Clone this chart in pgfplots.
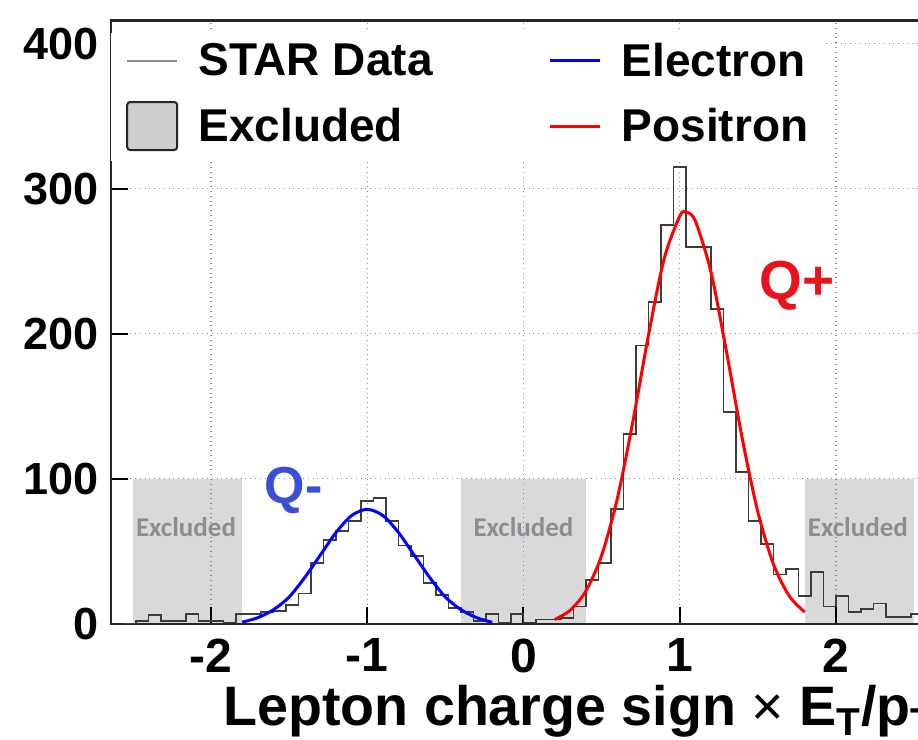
\documentclass[border=0pt]{standalone}
\usepackage{fontspec}
\setmainfont{Liberation Sans}
\newfontfamily\exclfont{Carlito}
\usepackage{pgfplots}
\pgfplotsset{compat=1.18}
\definecolor{exclgray}{HTML}{D9D9D9}
\definecolor{histgray}{HTML}{3C3C3C}
\definecolor{qblue}{HTML}{3A4FD6}
\definecolor{qred}{HTML}{E8141C}
\definecolor{textgray}{HTML}{8A8D94}
\begin{document}
\begin{tikzpicture}
\begin{axis}[
  set layers,
  scale only axis,
  width=412.5pt, height=301.6pt,
  xmin=-2.64, xmax=2.64, ymin=0, ymax=416,
  xtick={-2,-1,0,1,2}, xticklabels={-2,-1,0,1,2},
  ytick={0,100,200,300,400}, yticklabels={0,100,200,300,400},
  xtick pos=left, ytick pos=left,
  tick align=inside,
  major tick length=8.5pt,
  tick style={line width=1pt, black},
  grid=major,
  major grid style={dotted, line width=0.6pt, black!45},
  axis line style={line width=1.2pt, black!85},
  xticklabel style={font=\fontsize{24}{28}\selectfont\bfseries, inner sep=0pt, yshift=-7.3pt},
  yticklabel style={font=\fontsize{22.5}{27}\selectfont\bfseries, inner sep=0pt, xshift=-5.8pt},
  xlabel={Lepton charge sign {\mdseries ×} E\textsubscript{T}/p\textsubscript{T}},
  xlabel style={at={(rel axis cs:1,0)}, anchor=base east, yshift=-51pt, inner sep=0pt, font=\fontsize{27.8}{31}\selectfont\bfseries},
  legend columns=2,
  legend cell align=left,
  legend style={at={(rel axis cs:0,1)}, anchor=north west, yshift=-6pt, draw=none, fill=white, outer sep=0pt, inner xsep=7.5pt, inner ysep=5pt, font=\fontsize{23}{27}\selectfont\bfseries, nodes={inner sep=0pt}, row sep=11pt, /tikz/every odd column/.append style={column sep=10pt}, /tikz/every even column/.append style={column sep=58pt}},
]
\addlegendimage{legend image code/.code={\draw[black!45, line width=1.2pt] (0pt,0pt) -- (25pt,0pt);}}
\addlegendentry{STAR Data}
\addlegendimage{legend image code/.code={\draw[blue, line width=1.5pt] (0pt,0pt) -- (25pt,0pt);}}
\addlegendentry{Electron}
\addlegendimage{legend image code/.code={\draw[fill=exclgray!95!black, draw=black!85, line width=1pt, rounded corners=1.5pt] (0pt,-12pt) rectangle (25pt,12pt);}}
\addlegendentry{Excluded}
\addlegendimage{legend image code/.code={\draw[red, line width=1.5pt] (0pt,0pt) -- (25pt,0pt);}}
\addlegendentry{Positron}

% excluded regions
\addplot[fill=exclgray, draw=none, forget plot, on layer=axis background] coordinates {(-2.5,100) (-1.8,100)} \closedcycle;
\addplot[fill=exclgray, draw=none, forget plot, on layer=axis background] coordinates {(-0.4,100) (0.4,100)} \closedcycle;
\addplot[fill=exclgray, draw=none, forget plot, on layer=axis background] coordinates {(1.8,100) (2.5,100)} \closedcycle;

% STAR data histogram (left bin edges, width 0.08)
\addplot[const plot, histgray, line width=0.9pt, forget plot] coordinates {
(-2.56,0) (-2.48,2) (-2.40,6) (-2.32,2) (-2.24,2) (-2.16,7) (-2.08,2) (-2.00,2)
(-1.92,1) (-1.84,7) (-1.76,7) (-1.68,8) (-1.60,9) (-1.52,13) (-1.44,21) (-1.36,42)
(-1.28,58) (-1.20,64) (-1.12,71) (-1.04,85) (-0.96,87) (-0.88,71) (-0.80,54) (-0.72,47)
(-0.64,28) (-0.56,20) (-0.48,11) (-0.40,8) (-0.32,2) (-0.24,7) (-0.16,1) (-0.08,7)
(0.00,1) (0.08,3) (0.16,3) (0.24,4) (0.32,12) (0.40,30) (0.48,42) (0.56,79)
(0.64,131) (0.72,192) (0.80,222) (0.88,275) (0.96,315) (1.04,260) (1.12,260) (1.20,217)
(1.28,146) (1.36,105) (1.44,71) (1.52,55) (1.60,34) (1.68,38) (1.76,19) (1.84,36)
(1.92,12) (2.00,19) (2.08,8) (2.16,10) (2.24,14) (2.32,5) (2.40,5) (2.48,7) (2.56,7)
};

% electron fit
\addplot[blue, line width=1.5pt, smooth, forget plot] coordinates {
(-1.8,1.2) (-1.7,4.3) (-1.6,9.8) (-1.5,18.5) (-1.4,32) (-1.3,47.5) (-1.2,63) (-1.1,74.7)
(-1.0,79) (-0.9,74.7) (-0.8,63) (-0.7,47.5) (-0.6,32) (-0.5,18.5) (-0.4,9.8) (-0.3,4.3) (-0.2,1.0)
};

% positron fit
\addplot[red, line width=1.5pt, smooth, forget plot] coordinates {
(0.2,3.0) (0.3,9.5) (0.4,22.8) (0.5,47.2) (0.6,86.2) (0.7,139.4) (0.8,199.2) (0.9,251.7)
(1.0,281.2) (1.04,284) (1.1,277.8) (1.2,242.6) (1.3,187.3) (1.4,127.9) (1.5,77.2) (1.6,41.2)
(1.7,19.4) (1.8,8.1)
};

\node[font=\fontsize{26}{30}\selectfont\bfseries, text=qblue] at (axis cs:-1.47,92) {Q-};
\node[font=\fontsize{27.5}{31}\selectfont\bfseries, text=qred] at (axis cs:1.75,233) {Q+};
\node[font=\exclfont\bfseries\fontsize{13.5}{15}\selectfont, text=textgray] at (axis cs:-2.16,67) {Excluded};
\node[font=\exclfont\bfseries\fontsize{13.5}{15}\selectfont, text=textgray] at (axis cs:0,67) {Excluded};
\node[font=\exclfont\bfseries\fontsize{13.5}{15}\selectfont, text=textgray] at (axis cs:2.14,67) {Excluded};

\coordinate (SW) at (rel axis cs:0,0);
\coordinate (NE) at (axis cs:2.525,416);
\end{axis}
\pgfresetboundingbox
\path[use as bounding box] ([shift={(-55.5pt,-57.8pt)}]SW) rectangle ([yshift=10.35pt]NE);
\end{tikzpicture}
\end{document}
